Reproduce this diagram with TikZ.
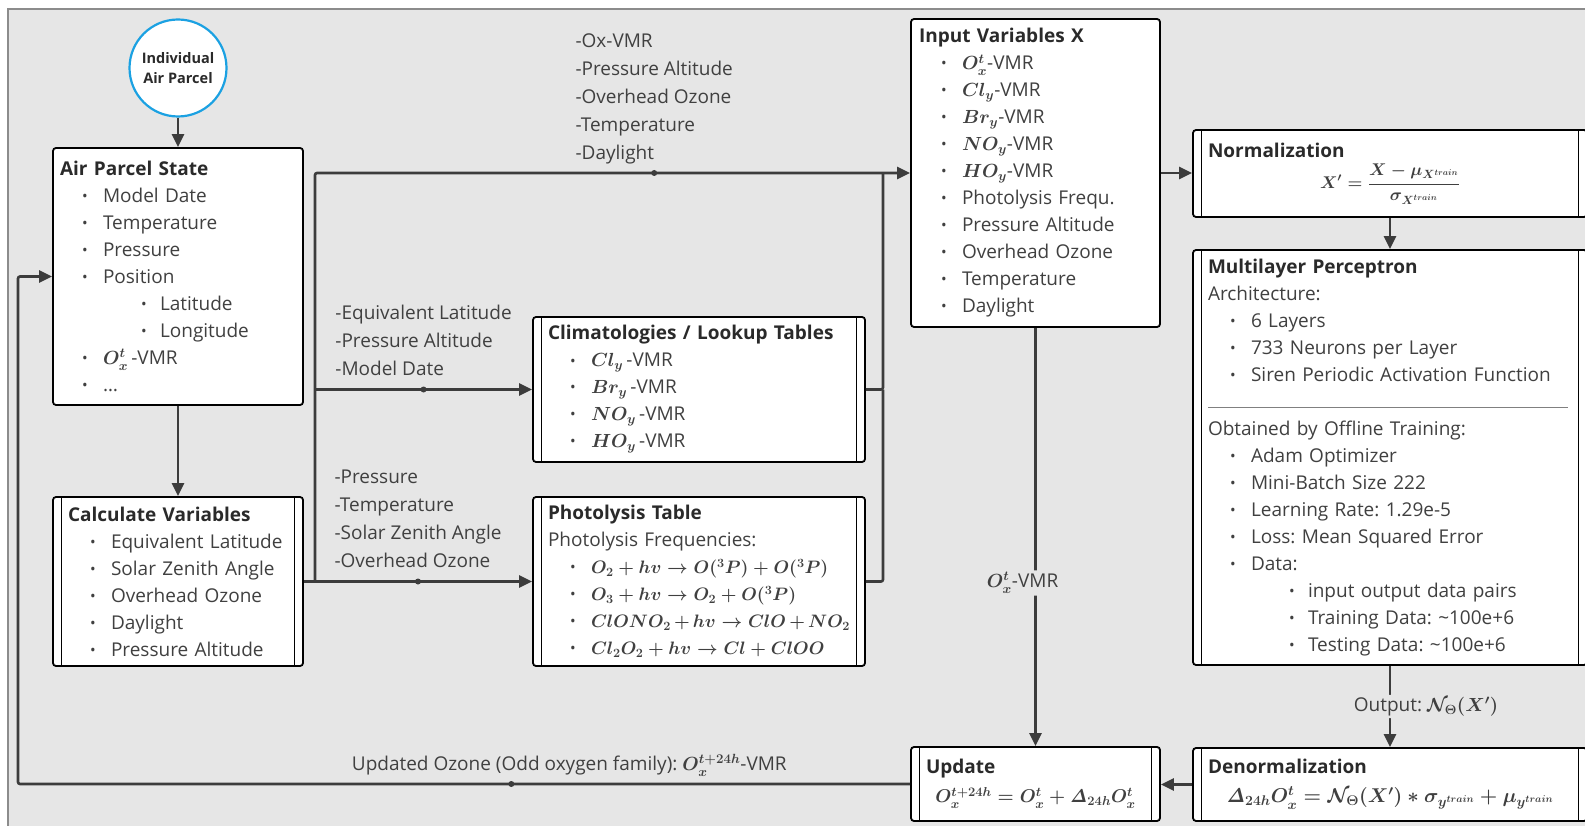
\documentclass[tikz,border=0pt]{standalone}
\usepackage{fix-cm}
\usepackage[no-math]{fontspec}
\setmainfont{Open Sans}
\usepackage{amsmath}
\usetikzlibrary{arrows.meta}

\definecolor{bggray}{HTML}{E6E6E6}
\definecolor{framegray}{HTML}{8C8C8C}
\definecolor{txtgray}{HTML}{404040}
\definecolor{titlegray}{HTML}{2A2A2A}
\definecolor{linegray}{HTML}{3C3C3C}
\definecolor{parcelblue}{HTML}{1BA1E2}
\definecolor{sepgray}{HTML}{808080}

\setlength{\parindent}{0pt}
\frenchspacing
\relpenalty=10000
\binoppenalty=10000

% list helpers
\newcommand{\bul}{\hspace*{22pt}\makebox[21pt][l]{\raisebox{1pt}{\fontsize{15}{15}\selectfont\textbullet}}}
\newcommand{\subbul}{\hspace*{81pt}\makebox[19pt][l]{\raisebox{1pt}{\fontsize{15}{15}\selectfont\textbullet}}}
\newcommand{\ttl}[1]{{\bfseries\color{titlegray}#1}}
\newcommand{\eq}[1]{{\fontsize{18}{27}\selectfont$#1$}}

\begin{document}
\begin{tikzpicture}[x=1pt, y=-1pt,
    box/.style={draw=black, line width=1.8pt, rounded corners=3pt, fill=white, text=txtgray,
        align=left, font=\fontsize{19}{27}\selectfont\boldmath, inner ysep=2pt, inner xsep=7pt},
    barbox/.style={box, inner xsep=15pt, path picture={
        \draw[black, line width=1.8pt] ([xshift=8.5pt]path picture bounding box.north west) -- ([xshift=8.5pt]path picture bounding box.south west);
        \draw[black, line width=1.8pt] ([xshift=-8.5pt]path picture bounding box.north east) -- ([xshift=-8.5pt]path picture bounding box.south east);}},
    conn/.style={draw=linegray, line width=2.6pt, rounded corners=2pt},
    arr/.style={conn, -{Triangle[length=13pt,width=12pt]}},
    dot/.style={circle, fill=linegray, inner sep=0pt, minimum size=6pt},
    lbl/.style={text=txtgray, align=left, font=\fontsize{19}{28}\selectfont\boldmath, inner sep=4pt},
    onlbl/.style={lbl, fill=bggray, inner sep=2pt},
]
    % Canvas
    \useasboundingbox (0,0) rectangle (1585,826);
    \fill[white] (0,0) rectangle (1585,826);
    \draw[framegray, fill=bggray, line width=1.2pt] (8,9) rectangle (1620,860);

    % Parcel and its state
    \node[circle, draw=parcelblue, line width=2.2pt, fill=white, minimum size=97pt, inner sep=0pt,
        align=center, text=titlegray, font=\fontsize{14.5}{20}\selectfont\bfseries] (parcel) at (178,68) {Individual\\Air Parcel};

    \node[box, text width=236pt, minimum height=257pt] (state) at (178,276.5) {\ttl{Air Parcel State}\\
        \bul Model Date\\
        \bul Temperature\\
        \bul Pressure\\
        \bul Position\\
        \subbul Latitude\\
        \subbul Longitude\\
        \bul $O_x^t$\,-VMR\\
        \bul \dots};

    \node[barbox, text width=220pt, minimum height=169pt] (calc) at (178,581.5) {\ttl{Calculate Variables}\\
        \bul Equivalent Latitude\\
        \bul Solar Zenith Angle\\
        \bul Overhead Ozone\\
        \bul Daylight\\
        \bul Pressure Altitude};

    % Tables
    \node[barbox, text width=302pt, minimum height=145pt] (clim) at (699,389.5) {\ttl{Climatologies / Lookup Tables}\\
        \bul $Cl_y$\,-VMR\\
        \bul $Br_y$\,-VMR\\
        \bul $NO_y$\,-VMR\\
        \bul $HO_y$\,-VMR};

    \node[barbox, text width=302pt, minimum height=169pt] (photo) at (699,581.5) {\ttl{Photolysis Table}\\
        Photolysis Frequencies:\\
        \bul \eq{O_2+hv\rightarrow O(^3P)+O(^3P)}\\
        \bul \eq{O_3+hv\rightarrow O_2+O(^3P)}\\
        \bul \eq{ClONO_2+hv\rightarrow ClO+NO_2}\\
        \bul \eq{Cl_2O_2+hv\rightarrow Cl+ClOO}};

    % Network side
    \node[box, inner xsep=8pt, text width=233pt, minimum height=308pt] (inp) at (1035.5,173) {\ttl{Input Variables X}\\
        \bul $O_x^t$-VMR\\
        \bul $Cl_y$-VMR\\
        \bul $Br_y$-VMR\\
        \bul $NO_y$-VMR\\
        \bul $HO_y$-VMR\\
        \bul Photolysis Frequ.\\
        \bul Pressure Altitude\\
        \bul Overhead Ozone\\
        \bul Temperature\\
        \bul Daylight};

    \node[barbox, text width=364pt, minimum height=87pt] (norm) at (1390,173.5) {\ttl{Normalization}\\[4pt]
        \hbox to\hsize{\hss{\fontsize{17}{20}\selectfont$X'=\dfrac{X-\mu_{X^{train}}}{\sigma_{X^{train}}}$}\hss}};

    \node[barbox, text width=364pt, minimum height=415pt] (mlp) at (1390,457.5) {\ttl{Multilayer Perceptron}\\
        Architecture:\\
        \bul 6 Layers\\
        \bul 733 Neurons per Layer\\
        \bul Siren Periodic Activation Function\\
        {\color{sepgray}\rule{360pt}{1pt}}\\
        Obtained by Offline Training:\\
        \bul Adam Optimizer\\
        \bul Mini-Batch Size 222\\
        \bul Learning Rate: 1.29e-5\\
        \bul Loss: Mean Squared Error\\
        \bul Data:\\
        \subbul input output data pairs\\
        \subbul Training Data: \textasciitilde100e+6\\
        \subbul Testing Data: \textasciitilde100e+6};

    \node[barbox, text width=364pt, minimum height=73pt] (denorm) at (1390,784.5) {\ttl{Denormalization}\\[2pt]
        \hbox to\hsize{\hss{\fontsize{20}{27}\selectfont$\mathit{\Delta}_{24h}O_x^t=\mathcal{N}_\Theta(X')*\sigma_{y^{train}}+\mu_{y^{train}}$}\hss}};

    \node[barbox, text width=219pt, minimum height=74pt] (upd) at (1035.5,784) {\ttl{Update}\\[2pt]
        \hbox to\hsize{\hss{\fontsize{18.5}{27}\selectfont$O_x^{t+24h}=O_x^t+\mathit{\Delta}_{24h}O_x^t$}\hss}};

    % Bus lines
    \coordinate (bus) at (315,0);
    \coordinate (rbus) at (883,0);
    \coordinate (loopx) at (18,0);

    \draw[arr] (parcel) -- (state);
    \draw[arr] (state) -- (calc);

    \draw[arr] (calc.east) -- node[dot] {} node[lbl, above] {-Pressure\\-Temperature\\-Solar Zenith Angle\\-Overhead Ozone\strut} (photo.west);
    \draw[arr] (clim.west -| bus) -- node[dot] {} node[lbl, above] {-Equivalent Latitude\\-Pressure Altitude\\-Model Date\strut} (clim.west);
    \draw[arr] (calc.east -| bus) -- (inp.west -| bus) -- node[dot, pos=.57] {}
        node[lbl, above, pos=.57] {-Ox-VMR\\-Pressure Altitude\\-Overhead Ozone\\-Temperature\\-Daylight\strut} (inp.west);

    \draw[conn] (clim.east) -- (clim.east -| rbus) -- (inp.west -| rbus);
    \draw[conn] (photo.east) -- (photo.east -| rbus) -- (clim.east -| rbus);

    % Network chain
    \draw[arr] (inp.east) -- (inp.east -| norm.west);
    \draw[arr] (norm) -- (mlp);
    \draw[arr] (mlp) -- node[onlbl, xshift=36pt] {Output: $\mathcal{N}_\Theta(X')$} (denorm);
    \draw[arr] (denorm.west) -- (denorm.west -| upd.east);
    \draw[arr] (inp) -- node[onlbl, pos=.61, xshift=-13pt] {$O_x^t$-VMR} (upd);

    % Feedback
    \draw[arr] (upd.west) -- node[dot, pos=.447] {}
        node[lbl, above, pos=.382] {Updated Ozone (Odd oxygen family): $O_x^{t+24h}$-VMR\strut}
        (upd.west -| loopx) -- (state.west -| loopx) -- (state.west);
\end{tikzpicture}
\end{document}
